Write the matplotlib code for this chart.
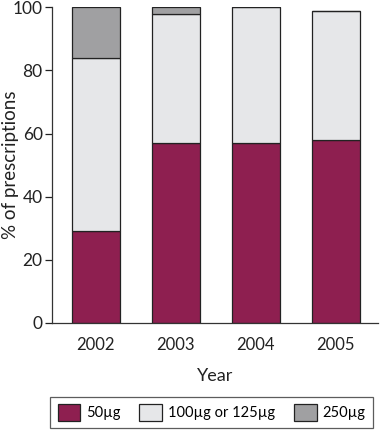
import matplotlib
matplotlib.use("Agg")
import matplotlib.pyplot as plt
import numpy as np

years = ["2002", "2003", "2004", "2005"]
dose_50 = [29, 57, 57, 58]
dose_100_125 = [55, 41, 43, 41]
dose_250 = [16, 2, 0, 0]
labels = ["50\u00b5g", "100\u00b5g or 125\u00b5g", "250\u00b5g"]
colors = ["#8E1F50", "#E6E7E9", "#A0A0A2"]

plt.rcParams['font.family'] = ['Lato', 'DejaVu Sans']

fig = plt.figure(figsize=(3.8, 4.33), dpi=100)
ax = fig.add_axes([0.136, 0.2547, 0.859, 0.7283])

x = np.arange(len(years))
w = 0.6
bottom = np.zeros(len(years))
handles = []
for vals, col, lab in zip([dose_50, dose_100_125, dose_250], colors, labels):
    vals = np.array(vals, dtype=float)
    b = ax.bar(x, vals, w, bottom=bottom, color=col, edgecolor="#222222",
               linewidth=0.9, label=lab)
    handles.append(b)
    bottom += vals

ax.set_xlim(-0.55, 3.53)
ax.set_ylim(0, 100)
ax.set_yticks([0, 20, 40, 60, 80, 100])
ax.set_xticks(x)
ax.set_xticklabels(years)
ax.tick_params(axis='x', length=0, pad=10, labelsize=12, colors="#222222")
ax.tick_params(axis='y', length=5, width=0.9, direction='out', labelsize=12.5,
               colors="#222222", pad=1.5)
for s in ["top", "right"]:
    ax.spines[s].set_visible(False)
for s in ["left", "bottom"]:
    ax.spines[s].set_linewidth(0.9)
    ax.spines[s].set_color("#333333")
ax.set_ylabel("% of prescriptions", fontsize=13.5, color="#222222")
ax.yaxis.set_label_coords(-0.100, 0.5)
ax.set_xlabel("Year", fontsize=13, color="#222222", labelpad=11)

leg = fig.legend(handles=handles, labels=labels, loc="center",
                 bbox_to_anchor=(211.5/380, (433 - 412.5)/433),
                 ncol=3, frameon=True, fancybox=False, fontsize=10.5,
                 handlelength=1.55, handleheight=1.45, handletextpad=0.4,
                 borderpad=0.5, columnspacing=1.3)
leg.get_frame().set_edgecolor("#333333")
leg.get_frame().set_linewidth(0.9)

fig.savefig("out.png", dpi=100)
